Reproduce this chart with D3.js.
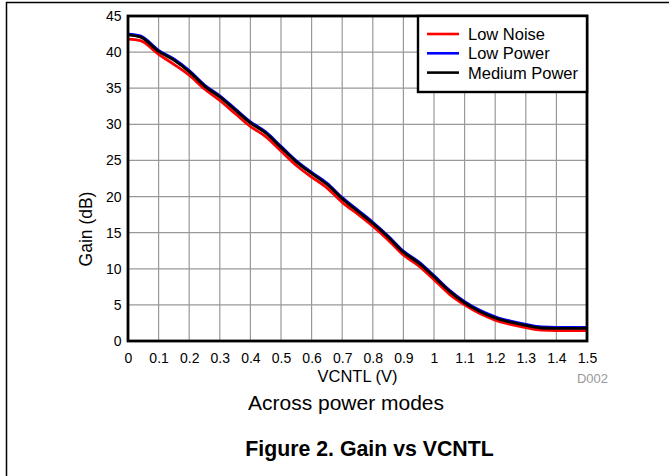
<!DOCTYPE html>
<html>
<head>
<meta charset="utf-8">
<script src="https://cdn.jsdelivr.net/npm/d3@7"></script>
<style>
  html, body { margin: 0; padding: 0; background: #fff; }
  svg { display: block; font-family: "Liberation Sans", Arial, sans-serif; }
</style>
</head>
<body>
<svg id="chart" width="669" height="476"></svg>
<script>
/* Gain vs VCNTL, three power modes. */

const vcntl = [0, 0.04, 0.1, 0.15, 0.2, 0.25, 0.3, 0.35, 0.4, 0.45, 0.5, 0.55, 0.6, 0.65, 0.7,
  0.75, 0.8, 0.85, 0.9, 0.95, 1.0, 1.05, 1.1, 1.15, 1.2, 1.25, 1.3, 1.35, 1.4, 1.45, 1.5];
const gainLowNoise = [41.8, 41.6, 39.7, 38.3, 36.8, 34.9, 33.3, 31.5, 29.7, 28.3, 26.3, 24.3, 22.7, 21.2, 19.2,
  17.6, 15.9, 14.0, 11.9, 10.4, 8.5, 6.5, 5.0, 3.8, 2.9, 2.3, 1.85, 1.5, 1.45, 1.45, 1.45];
const gainLowPower = [42.5, 42.25, 40.25, 39.05, 37.45, 35.45, 33.95, 32.15, 30.35, 28.95, 26.95, 24.95, 23.35, 21.85, 19.85,
  18.15, 16.45, 14.55, 12.45, 10.95, 9.05, 7.05, 5.45, 4.25, 3.35, 2.75, 2.3, 1.95, 1.9, 1.9, 1.9];
const gainMedium = [42.4, 42.1, 40.1, 38.9, 37.3, 35.3, 33.8, 32.0, 30.2, 28.8, 26.8, 24.8, 23.2, 21.7, 19.7,
  18.0, 16.3, 14.4, 12.3, 10.8, 8.9, 6.9, 5.3, 4.1, 3.2, 2.6, 2.15, 1.8, 1.75, 1.75, 1.75];

const seriesNames = ["Low Noise", "Low Power", "Medium Power"];
const seriesColors = ["#ff0000", "#0000ff", "#000000"];
const seriesValues = [gainLowNoise, gainLowPower, gainMedium];

const xTicks = [0, 0.1, 0.2, 0.3, 0.4, 0.5, 0.6, 0.7, 0.8, 0.9, 1, 1.1, 1.2, 1.3, 1.4, 1.5];
const yTicks = [0, 5, 10, 15, 20, 25, 30, 35, 40, 45];

const svg = d3.select("#chart");

// page frame (top and left rule)
svg.append("path")
  .attr("d", "M6.5,476 L6.5,2.5 L669,2.5")
  .attr("fill", "none")
  .attr("stroke", "#000")
  .attr("stroke-width", 1.5);

const pLeft = 128, pRight = 587, pTop = 16, pBottom = 341;
const x = d3.scaleLinear().domain([0, 1.5]).range([pLeft, pRight]);
const y = d3.scaleLinear().domain([0, 45]).range([pBottom, pTop]);

// grid
const grid = svg.append("g").attr("stroke", "#999").attr("stroke-width", 1.2);
grid.selectAll("line.v").data(xTicks).join("line").attr("class", "v")
  .attr("x1", (d) => x(d)).attr("x2", (d) => x(d))
  .attr("y1", pTop).attr("y2", pBottom);
grid.selectAll("line.h").data(yTicks).join("line").attr("class", "h")
  .attr("y1", (d) => y(d)).attr("y2", (d) => y(d))
  .attr("x1", pLeft).attr("x2", pRight);

// axes (labels only, frame drawn separately)
const xAxis = svg.append("g")
  .attr("transform", `translate(0,${pBottom})`)
  .call(d3.axisBottom(x).tickValues(xTicks).tickSize(0).tickPadding(12).tickFormat(d3.format("")));
const yAxis = svg.append("g")
  .attr("transform", `translate(${pLeft},0)`)
  .call(d3.axisLeft(y).tickValues(yTicks).tickSize(0).tickPadding(6.5));
[xAxis, yAxis].forEach((a) => {
  a.select(".domain").remove();
  a.attr("font-size", null).attr("font-family", null);
  a.selectAll("text").style("font-size", "14px").attr("fill", "#000");
});

// curves
const line = d3.line()
  .x((d, i) => x(vcntl[i]))
  .y((d) => y(d))
  .curve(d3.curveMonotoneX);

svg.append("clipPath").attr("id", "plotclip")
  .append("rect").attr("x", pLeft).attr("y", pTop)
  .attr("width", pRight - pLeft).attr("height", pBottom - pTop);

const drawOrder = [0, 1, 2];
svg.append("g").attr("clip-path", "url(#plotclip)")
  .selectAll("path").data(drawOrder).join("path")
  .attr("d", (k) => line(seriesValues[k]))
  .attr("fill", "none")
  .attr("stroke", (k) => seriesColors[k])
  .attr("stroke-width", 2.8)
  .attr("stroke-linejoin", "round");

// plot frame
svg.append("rect")
  .attr("x", pLeft).attr("y", pTop)
  .attr("width", pRight - pLeft).attr("height", pBottom - pTop)
  .attr("fill", "none").attr("stroke", "#000").attr("stroke-width", 2.8);

// legend
const lg = svg.append("g");
lg.append("rect")
  .attr("x", 418).attr("y", pTop)
  .attr("width", pRight - 418).attr("height", 76)
  .attr("fill", "#fff").attr("stroke", "#000").attr("stroke-width", 2.4);
seriesNames.forEach((name, i) => {
  const ly = 34 + i * 19.3;
  lg.append("line")
    .attr("x1", 427).attr("x2", 459).attr("y1", ly).attr("y2", ly)
    .attr("stroke", seriesColors[i]).attr("stroke-width", 2.6);
  lg.append("text")
    .attr("x", 468).attr("y", ly + 6)
    .attr("font-size", 16.5).text(name);
});

// axis titles and captions
svg.append("text")
  .attr("x", (pLeft + pRight) / 2).attr("y", 381.5)
  .attr("text-anchor", "middle").attr("font-size", 16.5)
  .text("VCNTL (V)");
svg.append("text")
  .attr("transform", `translate(92,229) rotate(-90)`)
  .attr("text-anchor", "middle").attr("font-size", 17.5)
  .text("Gain (dB)");
svg.append("text")
  .attr("x", 608).attr("y", 383)
  .attr("text-anchor", "end").attr("font-size", 13).attr("fill", "#999")
  .text("D002");
svg.append("text")
  .attr("x", 346).attr("y", 409.5)
  .attr("text-anchor", "middle").attr("font-size", 21)
  .text("Across power modes");
svg.append("text")
  .attr("x", 369.5).attr("y", 456)
  .attr("text-anchor", "middle").attr("font-size", 21.3).attr("font-weight", "bold")
  .text("Figure 2. Gain vs VCNTL");
</script>
</body>
</html>
